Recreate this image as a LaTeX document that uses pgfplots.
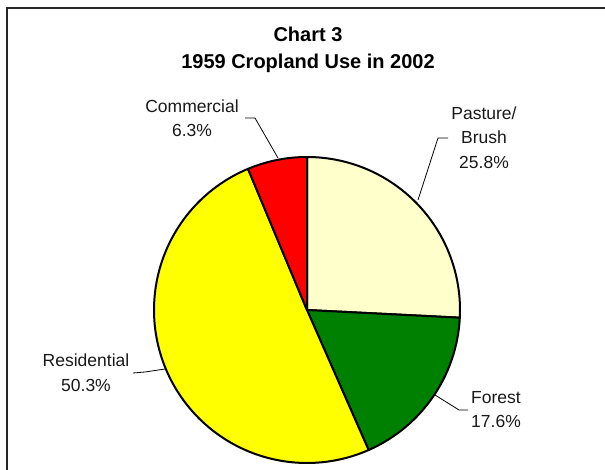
\documentclass[border=0pt]{standalone}
\usepackage{fontspec}
\setmainfont{Liberation Sans}
\usepackage{pgfplots}
\pgfplotsset{compat=1.18}
\definecolor{pasture}{HTML}{FFFFCC}
\definecolor{forest}{HTML}{008000}
\definecolor{resid}{HTML}{FFFF00}
\definecolor{comm}{HTML}{FF0000}
% shares (percent)
\def\vP{25.8}
\def\vF{17.6}
\def\vR{50.3}
\def\vC{6.3}
\pgfmathsetmacro\aA{90}
\pgfmathsetmacro\aB{\aA-3.6*\vP}
\pgfmathsetmacro\aC{\aB-3.6*\vF}
\pgfmathsetmacro\aD{\aC-3.6*\vR}
\pgfmathsetmacro\aE{\aD-3.6*\vC}
\newcommand\slice[3]{%
  \addplot[fill=#3, draw=black, line width=2pt, line join=round, domain=#1:#2, samples=120]
    ({307+153*cos(x)},{310-153*sin(x)}) -- (axis cs:307,310) -- cycle;%
}
\tikzset{lab/.style={font=\fontsize{17.5}{24.5}\selectfont, align=center, text=black!90}}
\begin{document}
\begin{tikzpicture}[x=1pt,y=1pt]
\path[use as bounding box] (0,0) rectangle (605,470);
\draw[line width=1.5pt, black!85] (7,0) -- (7,462) -- (605,462);
\begin{axis}[at={(0,0)}, anchor=south west, x=1pt, y=1pt,
  xmin=0, xmax=605, ymin=0, ymax=470, y dir=reverse,
  hide axis, clip=false]
\slice{\aB}{\aA}{pasture}
\slice{\aC}{\aB}{forest}
\slice{\aD}{\aC}{resid}
\slice{\aE}{\aD}{comm}
\node[font=\fontsize{20}{24}\selectfont\bfseries] at (axis cs:308,34) {Chart 3};
\node[font=\fontsize{20}{24}\selectfont\bfseries] at (axis cs:308,63) {1959 Cropland Use in 2002};
\node[lab] at (axis cs:192,118) {Commercial\\6.3\%};
\node[lab] at (axis cs:484,137.5) {Pasture/\\Brush\\25.8\%};
\node[lab] at (axis cs:86,372.5) {Residential\\50.3\%};
\node[lab, align=left] at (axis cs:496,409.5) {Forest\\17.6\%};
\draw[black, line width=0.8pt] (axis cs:245,118) -- (axis cs:255,118) -- (axis cs:278,158);
\draw[black, line width=0.8pt] (axis cs:448,138) -- (axis cs:438,138) -- (axis cs:418,200);
\draw[black, line width=0.8pt] (axis cs:133,373) -- (axis cs:145,372) -- (axis cs:165,369);
\draw[black, line width=0.8pt] (axis cs:468,410) -- (axis cs:459,410) -- (axis cs:435,395);
\end{axis}
\end{tikzpicture}
\end{document}
